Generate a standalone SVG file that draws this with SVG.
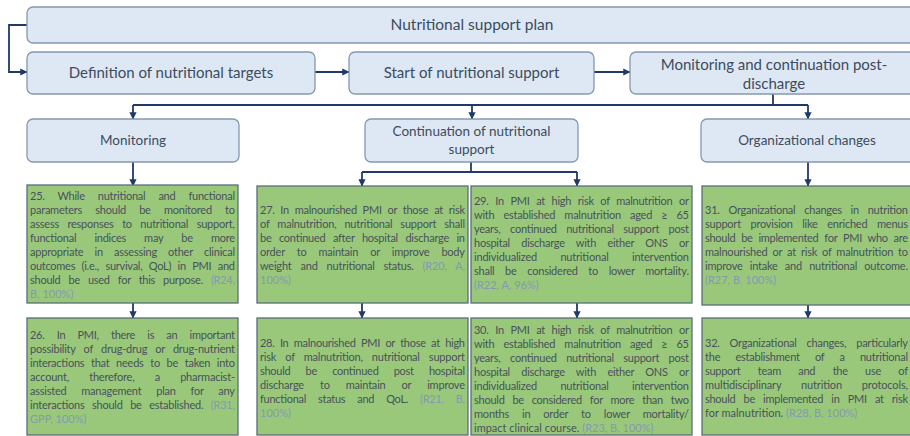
<svg xmlns="http://www.w3.org/2000/svg" width="910" height="436" viewBox="0 0 910 436">
  <defs>
    <marker id="arrow" viewBox="0 0 8 8" refX="7.5" refY="4" markerWidth="4" markerHeight="4" orient="auto" markerUnits="strokeWidth">
      <path d="M0,0 L8,4 L0,8 z" fill="#1f3a68"/>
    </marker>
    <style>
      .hdr { fill: #dde8f4; stroke: #8598ae; stroke-width: 1.3; }
      .rec { fill: #99c87a; stroke: #5b6d7b; stroke-width: 1.3; }
      .ht { font-family: Lato, "Open Sans", "Liberation Sans", sans-serif; fill: #3c4b5e; text-anchor: middle; }
      .bt { font-family: Lato, "Open Sans", "Liberation Sans", sans-serif; font-size: 11px; fill: #48525c; }
      .cite { fill: #8499b2; }
      .conn { fill: none; stroke: #1f3a68; stroke-width: 1.8; }
    </style>
  </defs>

  <!-- connectors -->
  <g id="connectors">
    <path class="conn" d="M27,25 H9 V72 H27" marker-end="url(#arrow)"/>
    <path class="conn" d="M315,72 H349" marker-end="url(#arrow)"/>
    <path class="conn" d="M594,72 H630" marker-end="url(#arrow)"/>
    <path class="conn" d="M773,94 V105 M133,105 H808"/>
    <path class="conn" d="M133,105 V119" marker-end="url(#arrow)"/>
    <path class="conn" d="M472,105 V119" marker-end="url(#arrow)"/>
    <path class="conn" d="M808,105 V119" marker-end="url(#arrow)"/>
    <path class="conn" d="M133,162 V186" marker-end="url(#arrow)"/>
    <path class="conn" d="M471,162 V172 M362,172 H577"/>
    <path class="conn" d="M362,172 V186" marker-end="url(#arrow)"/>
    <path class="conn" d="M577,172 V186" marker-end="url(#arrow)"/>
    <path class="conn" d="M808,162 V186" marker-end="url(#arrow)"/>
    <path class="conn" d="M133,303 V318" marker-end="url(#arrow)"/>
    <path class="conn" d="M362,303 V318" marker-end="url(#arrow)"/>
    <path class="conn" d="M577,303 V318" marker-end="url(#arrow)"/>
    <path class="conn" d="M808,303 V318" marker-end="url(#arrow)"/>
  </g>

  <!-- header nodes -->
  <g id="plan">
    <rect class="hdr" x="27" y="7" width="893" height="36" rx="6"/>
    <text class="ht" x="472" y="30" font-size="15.5">Nutritional support plan</text>
  </g>
  <g id="targets">
    <rect class="hdr" x="27" y="52" width="288" height="42" rx="6"/>
    <text class="ht" x="171" y="78" font-size="15">Definition of nutritional targets</text>
  </g>
  <g id="start">
    <rect class="hdr" x="349" y="52" width="245" height="42" rx="6"/>
    <text class="ht" x="471.5" y="78" font-size="15">Start of nutritional support</text>
  </g>
  <g id="post-discharge">
    <rect class="hdr" x="630" y="52" width="290" height="42" rx="6"/>
    <text class="ht" x="774" y="70" font-size="15">Monitoring and continuation post-</text>
    <text class="ht" x="774" y="89" font-size="15">discharge</text>
  </g>
  <g id="monitoring">
    <rect class="hdr" x="27" y="119" width="212" height="43" rx="6"/>
    <text class="ht" x="133" y="145" font-size="13.5">Monitoring</text>
  </g>
  <g id="continuation">
    <rect class="hdr" x="365" y="119" width="213" height="43" rx="6"/>
    <text class="ht" x="471.5" y="136" font-size="13.5">Continuation  of nutritional</text>
    <text class="ht" x="471.5" y="154" font-size="13.5">support</text>
  </g>
  <g id="organizational">
    <rect class="hdr" x="701" y="119" width="219" height="43" rx="6"/>
    <text class="ht" x="807" y="145" font-size="13.5">Organizational  changes</text>
  </g>

  <!-- recommendation 25 -->
  <g id="r25">
    <rect class="rec" x="27" y="185" width="211" height="118"/>
    <text class="bt" x="30" y="199.5" textLength="205" lengthAdjust="spacing" style="word-spacing:10.5px">25. While nutritional and functional</text>
    <text class="bt" x="30" y="213.5" textLength="205" lengthAdjust="spacing" style="word-spacing:10.6px">parameters should be monitored to</text>
    <text class="bt" x="30" y="227.5" textLength="205" lengthAdjust="spacing" style="word-spacing:5.9px">assess responses to nutritional support,</text>
    <text class="bt" x="30" y="241.5" textLength="205" lengthAdjust="spacing" style="word-spacing:15.6px">functional indices may be more</text>
    <text class="bt" x="30" y="255.5" textLength="205" lengthAdjust="spacing" style="word-spacing:8.5px">appropriate in assessing other clinical</text>
    <text class="bt" x="30" y="269.5" textLength="205" lengthAdjust="spacing" style="word-spacing:3.9px">outcomes (i.e., survival, QoL) in PMI and</text>
    <text class="bt" x="30" y="283.5" textLength="205" lengthAdjust="spacing" style="word-spacing:5.4px">should be used for this purpose. <tspan class="cite">(R24,</tspan></text>
    <text class="bt cite" x="30" y="297.5">B, 100%)</text>
  </g>

  <!-- recommendation 26 -->
  <g id="r26">
    <rect class="rec" x="27" y="318" width="211" height="117"/>
    <text class="bt" x="30" y="338.5" textLength="205" lengthAdjust="spacing" style="word-spacing:9.6px">26. In PMI, there is an important</text>
    <text class="bt" x="30" y="352.5" textLength="205" lengthAdjust="spacing" style="word-spacing:5.5px">possibility of drug-drug or drug-nutrient</text>
    <text class="bt" x="30" y="366.5" textLength="205" lengthAdjust="spacing" style="word-spacing:4.1px">interactions that needs to be taken into</text>
    <text class="bt" x="30" y="380.5" textLength="205" lengthAdjust="spacing" style="word-spacing:17.6px">account, therefore, a pharmacist-</text>
    <text class="bt" x="30" y="394.5" textLength="205" lengthAdjust="spacing" style="word-spacing:12.2px">assisted management plan for any</text>
    <text class="bt" x="30" y="408.5" textLength="205" lengthAdjust="spacing" style="word-spacing:4.9px">interactions should be established. <tspan class="cite">(R31,</tspan></text>
    <text class="bt cite" x="30" y="422.5">GPP, 100%)</text>
  </g>

  <!-- recommendation 27 -->
  <g id="r27">
    <rect class="rec" x="257" y="186" width="211" height="117"/>
    <text class="bt" x="260" y="214" textLength="205" lengthAdjust="spacing" style="word-spacing:3.2px">27. In malnourished PMI or those at risk</text>
    <text class="bt" x="260" y="228" textLength="205" lengthAdjust="spacing" style="word-spacing:5.4px">of malnutrition, nutritional support shall</text>
    <text class="bt" x="260" y="242" textLength="205" lengthAdjust="spacing" style="word-spacing:4.9px">be continued after hospital discharge in</text>
    <text class="bt" x="260" y="256" textLength="205" lengthAdjust="spacing" style="word-spacing:9.4px">order to maintain or improve body</text>
    <text class="bt" x="260" y="270" textLength="205" lengthAdjust="spacing" style="word-spacing:6.4px">weight and nutritional status. <tspan class="cite">(R20, A,</tspan></text>
    <text class="bt cite" x="260" y="284">100%)</text>
  </g>

  <!-- recommendation 28 -->
  <g id="r28">
    <rect class="rec" x="257" y="318" width="211" height="117"/>
    <text class="bt" x="260" y="347" textLength="205" lengthAdjust="spacing" style="word-spacing:2.8px">28. In malnourished PMI or those at high</text>
    <text class="bt" x="260" y="361" textLength="205" lengthAdjust="spacing" style="word-spacing:6.5px">risk of malnutrition, nutritional support</text>
    <text class="bt" x="260" y="375" textLength="205" lengthAdjust="spacing" style="word-spacing:12.6px">should be continued post hospital</text>
    <text class="bt" x="260" y="389" textLength="205" lengthAdjust="spacing" style="word-spacing:13.4px">discharge to maintain or improve</text>
    <text class="bt" x="260" y="403" textLength="205" lengthAdjust="spacing" style="word-spacing:9.4px">functional status and QoL. <tspan class="cite">(R21, B,</tspan></text>
    <text class="bt cite" x="260" y="417">100%)</text>
  </g>

  <!-- recommendation 29 -->
  <g id="r29">
    <rect class="rec" x="471" y="186" width="221" height="117"/>
    <text class="bt" x="474" y="204.5" textLength="215" lengthAdjust="spacing" style="word-spacing:4.1px">29. In PMI at high risk of malnutrition or</text>
    <text class="bt" x="474" y="218.5" textLength="215" lengthAdjust="spacing" style="word-spacing:6.5px">with established malnutrition aged ≥ 65</text>
    <text class="bt" x="474" y="232.5" textLength="215" lengthAdjust="spacing" style="word-spacing:6.9px">years, continued nutritional support post</text>
    <text class="bt" x="474" y="246.5" textLength="215" lengthAdjust="spacing" style="word-spacing:8.7px">hospital discharge with either ONS or</text>
    <text class="bt" x="474" y="260.5" textLength="215" lengthAdjust="spacing" style="word-spacing:20.8px">individualized nutritional intervention</text>
    <text class="bt" x="474" y="274.5" textLength="215" lengthAdjust="spacing" style="word-spacing:8px">shall be considered to lower mortality.</text>
    <text class="bt cite" x="474" y="288.5">(R22, A, 96%)</text>
  </g>

  <!-- recommendation 30 -->
  <g id="r30">
    <rect class="rec" x="471" y="318" width="221" height="117"/>
    <text class="bt" x="474" y="333.5" textLength="215" lengthAdjust="spacing" style="word-spacing:4.1px">30. In PMI at high risk of malnutrition or</text>
    <text class="bt" x="474" y="347.5" textLength="215" lengthAdjust="spacing" style="word-spacing:6.5px">with established malnutrition aged ≥ 65</text>
    <text class="bt" x="474" y="361.5" textLength="215" lengthAdjust="spacing" style="word-spacing:6.9px">years, continued nutritional support post</text>
    <text class="bt" x="474" y="375.5" textLength="215" lengthAdjust="spacing" style="word-spacing:8.7px">hospital discharge with either ONS or</text>
    <text class="bt" x="474" y="389.5" textLength="215" lengthAdjust="spacing" style="word-spacing:20.8px">individualized nutritional intervention</text>
    <text class="bt" x="474" y="403.5" textLength="215" lengthAdjust="spacing" style="word-spacing:5.2px">should be considered for more than two</text>
    <text class="bt" x="474" y="417.5" textLength="215" lengthAdjust="spacing" style="word-spacing:10.4px">months in order to lower mortality/</text>
    <text class="bt" x="474" y="431.5">impact clinical course. <tspan class="cite">(R23, B, 100%)</tspan></text>
  </g>

  <!-- recommendation 31 -->
  <g id="r31">
    <rect class="rec" x="702" y="186" width="220" height="119"/>
    <text class="bt" x="705" y="214" textLength="203" lengthAdjust="spacing" style="word-spacing:6.3px">31. Organizational changes in nutrition</text>
    <text class="bt" x="705" y="228" textLength="203" lengthAdjust="spacing" style="word-spacing:7px">support provision like enriched menus</text>
    <text class="bt" x="705" y="242" textLength="203" lengthAdjust="spacing" style="word-spacing:3.2px">should be implemented for PMI who are</text>
    <text class="bt" x="705" y="256" textLength="203" lengthAdjust="spacing" style="word-spacing:2.4px">malnourished or at risk of malnutrition to</text>
    <text class="bt" x="705" y="270" textLength="203" lengthAdjust="spacing" style="word-spacing:4.6px">improve intake and nutritional outcome.</text>
    <text class="bt cite" x="705" y="284">(R27, B, 100%)</text>
  </g>

  <!-- recommendation 32 -->
  <g id="r32">
    <rect class="rec" x="702" y="318" width="220" height="117"/>
    <text class="bt" x="705" y="347" textLength="203" lengthAdjust="spacing" style="word-spacing:7.3px">32. Organizational changes, particularly</text>
    <text class="bt" x="705" y="361" textLength="203" lengthAdjust="spacing" style="word-spacing:12.6px">the establishment of a nutritional</text>
    <text class="bt" x="705" y="375" textLength="203" lengthAdjust="spacing" style="word-spacing:14.9px">support team and the use of</text>
    <text class="bt" x="705" y="389" textLength="203" lengthAdjust="spacing" style="word-spacing:17.1px">multidisciplinary nutrition protocols,</text>
    <text class="bt" x="705" y="403" textLength="203" lengthAdjust="spacing" style="word-spacing:5.6px">should be implemented in PMI at risk</text>
    <text class="bt" x="705" y="417">for malnutrition. <tspan class="cite">(R28, B, 100%)</tspan></text>
  </g>
</svg>
